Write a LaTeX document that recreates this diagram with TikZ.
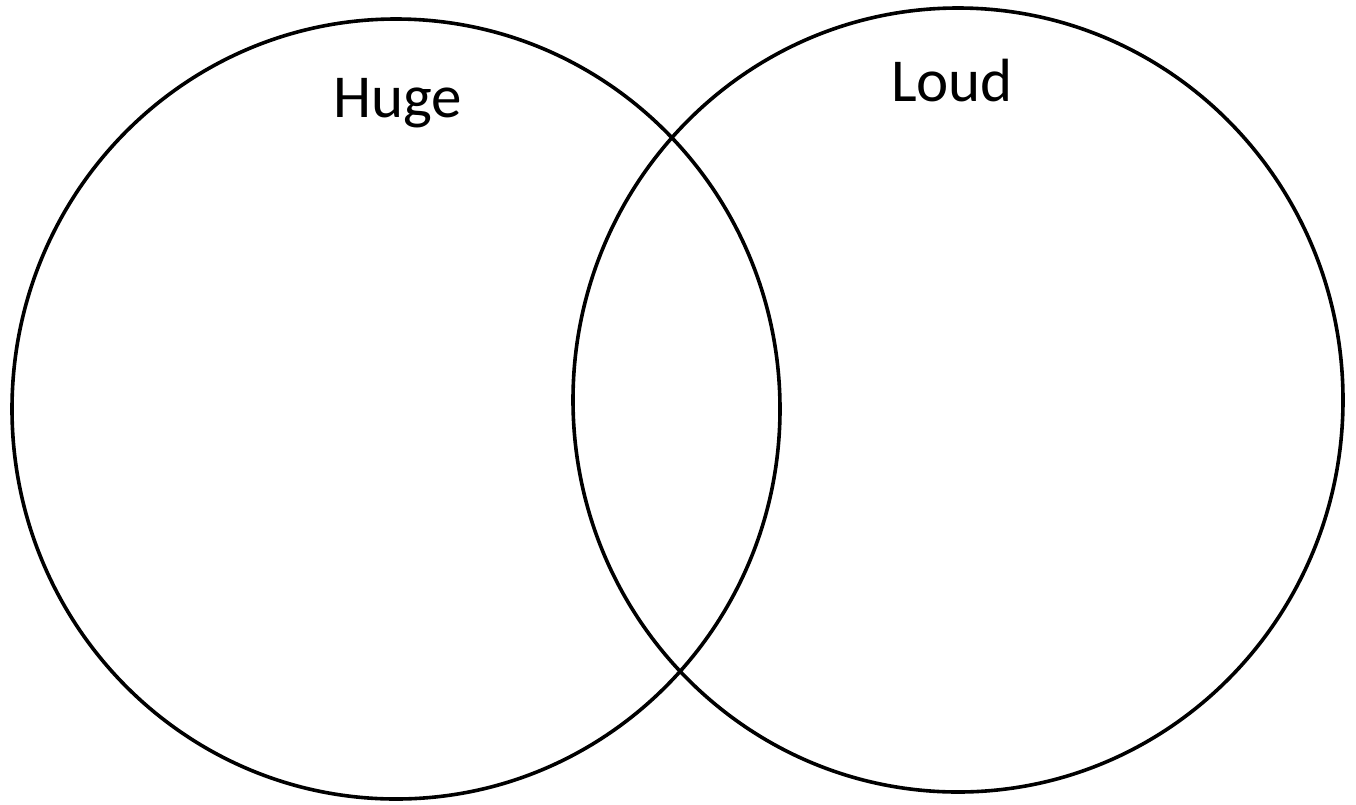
\documentclass[tikz,border=0pt]{standalone}
\usepackage{fontspec}
\setmainfont{Carlito}
\usetikzlibrary{positioning}

\begin{document}
\begin{tikzpicture}[x=1pt, y=-1pt,
    setline/.style={draw, line width=3.6pt},
    setlabel/.style={anchor=base, font=\fontsize{61}{70}\selectfont}
  ]
    \useasboundingbox (0,0) rectangle (1356,804);
    % the two sets
    \coordinate (hugec) at (396,409);
    \coordinate (loudc) at (958,400);
    \draw[setline] (hugec) ellipse [x radius=384, y radius=390];
    \draw[setline] (loudc) ellipse [x radius=385, y radius=392];

    % labels
    \node[setlabel] (huge) at (398,117) {Huge};
    \node[setlabel] (loud) at (952,101) {Loud};
  \end{tikzpicture}
\end{document}
